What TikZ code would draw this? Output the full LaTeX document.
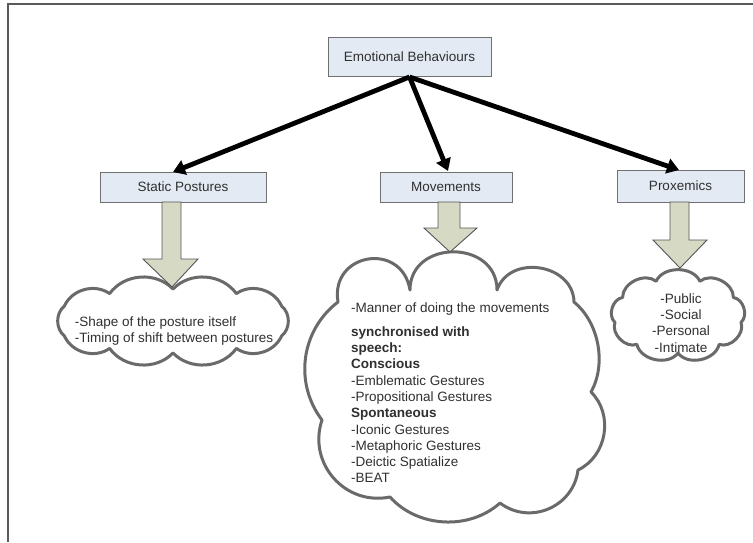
\documentclass[tikz,border=0pt]{standalone}
\usepackage{fontspec}
\setmainfont{Liberation Sans}
\usetikzlibrary{arrows.meta}
\definecolor{boxfill}{HTML}{E4EAF4}
\definecolor{boxline}{HTML}{707070}
\definecolor{blockfill}{HTML}{D6D9C4}
\definecolor{blockline}{HTML}{555555}
\definecolor{cloudline}{HTML}{6A6A6A}
\definecolor{txt}{HTML}{303030}
\definecolor{framecol}{HTML}{5A5A5A}
\tikzset{
  catbox/.style={draw=boxline, fill=boxfill, line width=0.9pt, inner sep=0pt,
    text=txt, font=\fontsize{13.5}{16}\selectfont},
  bigarrow/.style={line width=4.8pt, black, -{Triangle[length=12pt,width=15pt]}},
  blockarrow/.style={draw=blockline, fill=blockfill, line width=0.9pt, line join=miter},
  puffline/.style={draw=cloudline, fill=white, line width=3pt, line join=round},
  cloudtext/.style={text=txt, font=\fontsize{13.5}{16.3}\selectfont, inner sep=0pt},
  framestyle/.style={draw=framecol, line width=1.6pt}
}
\begin{document}
\begin{tikzpicture}[x=1pt,y=-1pt]
\useasboundingbox (0,0) rectangle (753,542);
\fill[white] (0,0) rectangle (753,542);
\draw[framestyle] (8,542) -- (8,4) -- (753,4);

% boxes
\node[catbox, minimum width=163pt, minimum height=39pt] (eb) at (409.5,57) {Emotional Behaviours};
\node[catbox, minimum width=166pt, minimum height=30pt] (sp) at (183,187) {Static Postures};
\node[catbox, minimum width=132pt, minimum height=30pt] (mv) at (446,187) {Movements};
\node[catbox, minimum width=127pt, minimum height=32pt] (px) at (680.5,186) {Proxemics};

% arrow targets
\coordinate (spt) at (173,172);
\coordinate (mvt) at (448,171);
\coordinate (pxt) at (679,170);
\draw[bigarrow] (eb.south) -- (spt);
\draw[bigarrow] (eb.south) -- (mvt);
\draw[bigarrow] (eb.south) -- (pxt);

% cloud centres
\coordinate (cS) at (173,321);
\coordinate (cP) at (678,316);

% static postures cloud
\draw[puffline] ([shift={(cS)}]28:123 and 32)
  \foreach \t in {59,90,121,152,208,239,270,301,332,388} {to[bend left=50] ([shift={(cS)}]\t:123 and 32)} -- cycle;

% movements cloud
\coordinate (m1) at (410,290);
\coordinate (m2) at (497,290);
\coordinate (m3) at (574,302);
\coordinate (m4) at (591,392);
\coordinate (m5) at (578,470);
\coordinate (m6) at (500,503);
\coordinate (m7) at (390,497);
\coordinate (m8) at (322,420);
\coordinate (m9) at (338,302);
\draw[puffline] (m1) to[bend left=90, looseness=1.5] (m2)
  to[bend left=80, looseness=1.26] (m3)
  to[bend left=40, looseness=0.9] (m4)
  to[bend left=55, looseness=1.04] (m5)
  to[bend left=60, looseness=1.13] (m6)
  to[bend left=45, looseness=0.96] (m7)
  to[bend left=60, looseness=1.14] (m8)
  to[bend left=45, looseness=1.0] (m9)
  to[bend left=90, looseness=1.75] (m1) -- cycle;

% proxemics cloud
\draw[puffline] ([shift={(cP)}]250:64 and 37)
  \foreach \t in {290,330,370,410,450,490,530,570,610} {to[bend left=65] ([shift={(cP)}]\t:64 and 37)} -- cycle;

% block arrows
\draw[blockarrow] (162,202) -- (162,259) -- (143,259) -- (172,287) -- (198,259) -- (181,259) -- (181,202) -- cycle;
\draw[blockarrow] (438,202) -- (438,228) -- (424,228) -- (450,252) -- (477,228) -- (460,228) -- (460,202) -- cycle;
\draw[blockarrow] (670,202) -- (670,240) -- (653,240) -- (680,268) -- (707,240) -- (689,240) -- (689,202) -- cycle;

% texts
\node[cloudtext, align=left] (t1) at (174,331) {-Shape of the posture itself\\-Timing of shift between postures};
\node[cloudtext, align=left, anchor=north west] (t2) at (351,303) {-Manner of doing the movements\\[7pt]
\textbf{synchronised with}\\
\textbf{speech:}\\
\textbf{Conscious}\\
-Emblematic Gestures\\
-Propositional Gestures\\
\textbf{Spontaneous}\\
-Iconic Gestures\\
-Metaphoric Gestures\\
-Deictic Spatialize\\
-BEAT};
\node[cloudtext, align=center] (t3) at (681,323) {-Public\\-Social\\-Personal\\-Intimate};
\end{tikzpicture}
\end{document}
